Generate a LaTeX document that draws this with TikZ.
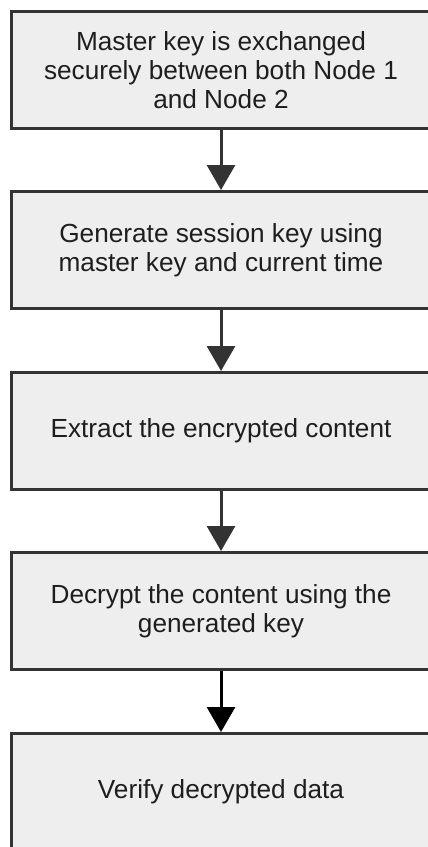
\documentclass[tikz,border=0pt]{standalone}
\usepackage{fontspec}
\setmainfont{Liberation Sans}
\usetikzlibrary{arrows.meta}
\definecolor{boxfill}{HTML}{EEEEEE}
\definecolor{boxline}{HTML}{333333}
\definecolor{boxtext}{HTML}{1E1E1E}
\begin{document}
\begin{tikzpicture}[x=1pt,y=1pt, every node/.style={font=\fontsize{26.2}{29}\selectfont,text=boxtext,align=center},
    box/.style={draw=boxline,fill=boxfill,line width=3pt,minimum width=419pt,minimum height=117pt,inner sep=0pt},
    arr/.style={line width=3pt,draw=boxline,-{Triangle[width=28pt,length=25pt]}}]
          \useasboundingbox (0,0) rectangle (428,-847);
          \clip (0,0) rectangle (428,-847);
          \node [box] (master) at (221,-70) {Master key is exchanged\\securely between both Node 1\\and Node 2};
          \node [box] (session) at (221,-250) {Generate session key using\\master key and current time};
          \node [box] (extract) at (221,-431) {Extract the encrypted content};
          \node [box] (decrypt) at (221,-611) {Decrypt the content using the\\generated key};
          \node [box] (verify) at (221,-792) {Verify decrypted data};
          \draw [arr] (master) -- (session);
          \draw [arr] (session) -- (extract);
          \draw [arr] (extract) -- (decrypt);
          \draw [arr,draw=black] (decrypt) -- (verify);
        \end{tikzpicture}
\end{document}
